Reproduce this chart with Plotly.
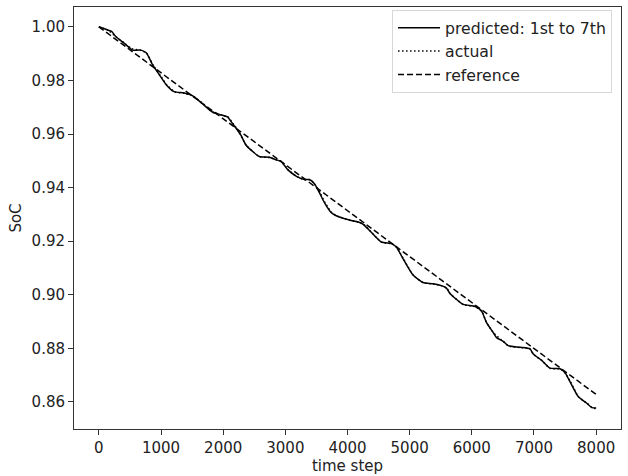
import plotly.graph_objects as go

# time steps (x) and SoC values
pred_t = [0, 134, 205, 270, 400, 511, 537, 673, 763, 860, 968, 1076, 1210, 1371, 1505,
          1666, 1827, 1963, 2069, 2150, 2231, 2285, 2366, 2473, 2581, 2742, 2850, 2931,
          3037, 3173, 3306, 3387, 3468, 3548, 3629, 3737, 3818, 4032, 4194, 4247, 4355,
          4544, 4705, 4785, 4892, 5053, 5215, 5376, 5511, 5592, 5645, 5860, 6048, 6156,
          6237, 6344, 6398, 6505, 6585, 6774, 6935, 6989, 7124, 7258, 7419, 7500, 7581,
          7715, 7850, 7931, 8000]
pred_soc = [1.0000, 0.9989, 0.9983, 0.9964, 0.9940, 0.9918, 0.9913, 0.9913, 0.9903, 0.9860,
            0.9823, 0.9786, 0.9758, 0.9753, 0.9743, 0.9713, 0.9682, 0.9672, 0.9664, 0.9639,
            0.9614, 0.9596, 0.9559, 0.9535, 0.9516, 0.9513, 0.9504, 0.9498, 0.9467, 0.9443,
            0.9430, 0.9430, 0.9414, 0.9381, 0.9344, 0.9307, 0.9295, 0.9279, 0.9270, 0.9264,
            0.9240, 0.9197, 0.9191, 0.9178, 0.9135, 0.9074, 0.9046, 0.9041, 0.9034, 0.9025,
            0.9006, 0.8964, 0.8957, 0.8939, 0.8896, 0.8859, 0.8840, 0.8826, 0.8810, 0.8804,
            0.8798, 0.8779, 0.8755, 0.8726, 0.8724, 0.8709, 0.8675, 0.8619, 0.8595, 0.8579,
            0.8577]

actual_t = [0, 150, 280, 420, 520, 680, 770, 870, 980, 1090, 1220, 1380, 1510, 1680, 1840,
            1970, 2080, 2160, 2240, 2370, 2480, 2590, 2750, 2860, 2940, 3050, 3180, 3310,
            3400, 3470, 3560, 3640, 3750, 3830, 4040, 4200, 4260, 4360, 4550, 4710, 4790,
            4900, 5060, 5220, 5380, 5520, 5600, 5650, 5870, 6050, 6160, 6240, 6350, 6510,
            6590, 6780, 6940, 6990, 7130, 7260, 7420, 7500, 7590, 7720, 7860, 7940, 8000]
actual_soc = [1.0000, 0.9987, 0.9962, 0.9938, 0.9919, 0.9912, 0.9901, 0.9858, 0.9821, 0.9785,
              0.9757, 0.9752, 0.9742, 0.9712, 0.9681, 0.9671, 0.9663, 0.9638, 0.9613, 0.9558,
              0.9534, 0.9515, 0.9512, 0.9503, 0.9497, 0.9466, 0.9442, 0.9429, 0.9429, 0.9413,
              0.9380, 0.9343, 0.9306, 0.9294, 0.9278, 0.9269, 0.9263, 0.9239, 0.9196, 0.9190,
              0.9177, 0.9134, 0.9073, 0.9045, 0.9040, 0.9033, 0.9024, 0.9005, 0.8963, 0.8956,
              0.8938, 0.8895, 0.8858, 0.8825, 0.8809, 0.8803, 0.8797, 0.8778, 0.8754, 0.8725,
              0.8723, 0.8708, 0.8674, 0.8618, 0.8594, 0.8578, 0.8575]

ref_t = [0, 8000]
ref_soc = [1.0, 0.8628]

x_ticks = [0, 1000, 2000, 3000, 4000, 5000, 6000, 7000, 8000]
y_ticks = [0.86, 0.88, 0.90, 0.92, 0.94, 0.96, 0.98, 1.00]

FONT = "DejaVu Sans"

fig = go.Figure()
fig.add_trace(go.Scatter(x=pred_t, y=pred_soc, mode="lines", name="predicted: 1st to 7th",
                         line=dict(color="black", width=1.5, shape="spline", smoothing=0.6)))
fig.add_trace(go.Scatter(x=actual_t, y=actual_soc, mode="lines", name="actual",
                         line=dict(color="black", width=1.5, dash="1.5px,2.5px",
                                   shape="spline", smoothing=0.6)))
fig.add_trace(go.Scatter(x=ref_t, y=ref_soc, mode="lines", name="reference",
                         line=dict(color="black", width=1.5, dash="6px,3px")))

axis_common = dict(showgrid=False, zeroline=False, showline=True, linecolor="#333",
                   linewidth=1, mirror=True, ticks="outside", ticklen=5, tickwidth=1,
                   tickcolor="#333", tickfont=dict(family=FONT, size=15, color="#222"))

fig.update_xaxes(range=[-400, 8400], tickvals=x_ticks, ticktext=[str(v) for v in x_ticks],
                 title=dict(text="time step", font=dict(family=FONT, size=15, color="#222"),
                            standoff=2),
                 **axis_common)
fig.update_yaxes(range=[0.8499, 1.0074], tickvals=y_ticks,
                 ticktext=[f"{v:.2f}" for v in y_ticks],
                 title=dict(text="SoC", font=dict(family=FONT, size=15, color="#222"),
                            standoff=6),
                 **axis_common)

fig.update_layout(
    width=628, height=476,
    margin=dict(l=74, r=6, t=7, b=43),
    plot_bgcolor="white", paper_bgcolor="white",
    font=dict(family=FONT, size=15, color="#222"),
    legend=dict(x=0.9836, y=0.993, xanchor="right", yanchor="top",
                bgcolor="white", bordercolor="#d8d8d8", borderwidth=1,
                font=dict(family=FONT, size=15.7, color="#222"),
                tracegroupgap=0, itemwidth=42),
    showlegend=True,
)

fig.write_html("out.html")
